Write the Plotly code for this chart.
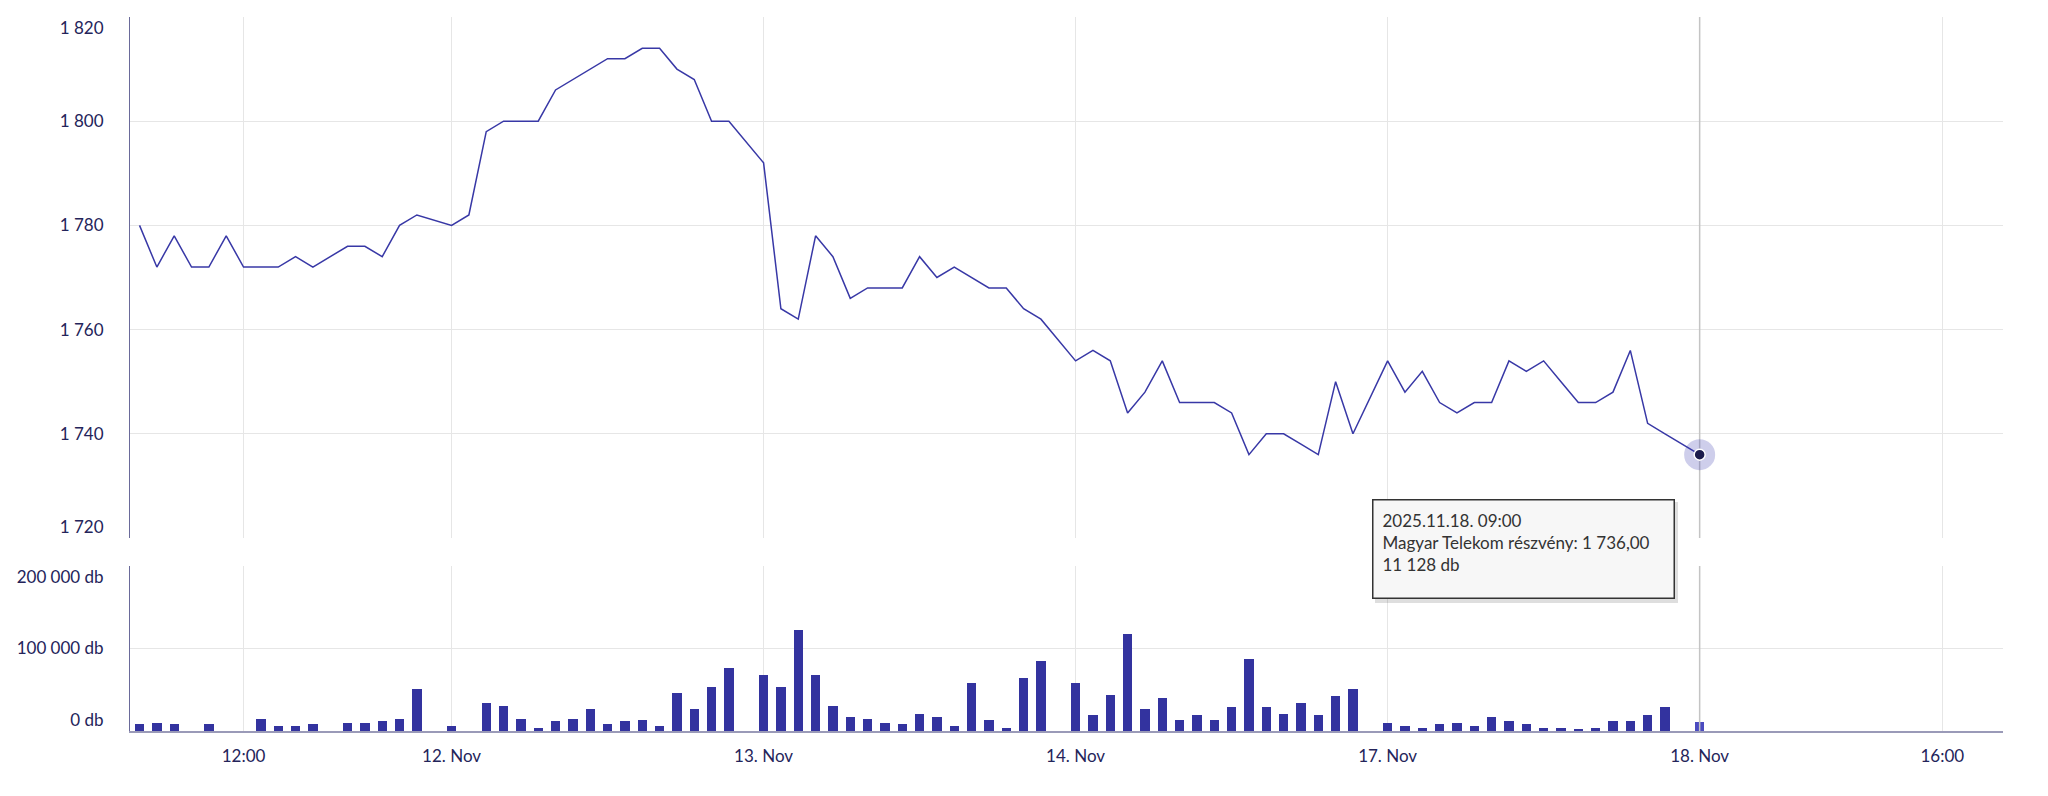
import plotly.graph_objects as go

# ---------------- data ----------------
days = ["2025.11.11.", "2025.11.12.", "2025.11.13.", "2025.11.14.", "2025.11.17.", "2025.11.18."]
slots = ["09:00", "09:30", "10:00", "10:30", "11:00", "11:30", "12:00", "12:30", "13:00",
         "13:30", "14:00", "14:30", "15:00", "15:30", "16:00", "16:30", "17:00", "17:30"]
times = [f"{d} {s}" for d in days[:-1] for s in slots] + [f"{days[-1]} 09:00"]

price = [
    1780, 1772, 1778, 1772, 1772, 1778, 1772, 1772, 1772, 1774, 1772, None, 1776, 1776, 1774, 1780, 1782, None,
    1780, 1782, 1798, 1800, 1800, 1800, 1806, 1808, 1810, 1812, 1812, 1814, 1814, 1810, 1808, 1800, 1800, None,
    1792, 1764, 1762, 1778, 1774, 1766, 1768, 1768, 1768, 1774, 1770, 1772, 1770, 1768, 1768, 1764, 1762, None,
    1754, 1756, 1754, 1744, 1748, 1754, 1746, 1746, 1746, 1744, 1736, 1740, 1740, 1738, 1736, 1750, 1740, None,
    1754, 1748, 1752, 1746, 1744, 1746, 1746, 1754, 1752, 1754, 1750, 1746, 1746, 1748, 1756, 1742, 1740, None,
    1736,
]
volume = [
    8000, 9700, 8000, 0, 8000, 0, 0, 15000, 6000, 6000, 8000, 0, 9700, 9700, 11700, 15000, 50800, 0,
    6000, 0, 34000, 30600, 15000, 4000, 11700, 15000, 26600, 8000, 11700, 13300, 6000, 45600, 26600, 53000, 75800, 0,
    67700, 53000, 122000, 67700, 30600, 17300, 15000, 9700, 8000, 21000, 17300, 6000, 58500, 13300, 4000, 64000, 84700, 0,
    58500, 19400, 43500, 118000, 26600, 40000, 13300, 19400, 13300, 28600, 86700, 28600, 21000, 34000, 19400, 42000, 50800, 0,
    9700, 6000, 4000, 8000, 9700, 6000, 17300, 11700, 8000, 4000, 4000, 2400, 4000, 11700, 11700, 19400, 28600, 0,
    11128,
]

x_tick_labels = ["12:00", "12. Nov", "13. Nov", "14. Nov", "17. Nov", "18. Nov", "16:00"]
x_tick_times = [("2025.11.11.", "12:00"), ("2025.11.12.", "09:00"), ("2025.11.13.", "09:00"),
                ("2025.11.14.", "09:00"), ("2025.11.17.", "09:00"), ("2025.11.18.", "09:00"),
                ("2025.11.18.", "16:00")]
price_ticks = [1720, 1740, 1760, 1780, 1800, 1820]
price_tick_labels = ["1 720<br> ", "1 740", "1 760", "1 780", "1 800", "<br>1 820"]
vol_ticks = [0, 100000, 200000]
vol_tick_labels = ["0 db<br> ", "100 000 db", "<br>200 000 db"]
series_name = "Magyar Telekom részvény"

# ---------------- ordinal positions ----------------
idx = list(range(len(times)))
n_slots = len(slots)
tick_pos = [days.index(d) * n_slots + slots.index(s) for d, s in x_tick_times]
price_range = [price_ticks[0], price_ticks[-1]]
vol_range = [vol_ticks[0], vol_ticks[-1]]

def hu(v, dec=0):
    s = f"{v:,.{dec}f}"
    return s.replace(",", " ").replace(".", ",")

FONT = "Lato"
TXT = "#24245a"
GRID = "#e6e6e6"
LINE = "#3838a6"
BAR = "#33339f"
CROSS = "#c4c4c4"

bar_colors = [BAR] * (len(volume) - 1) + ["#4b4bc0"]
last = len(times) - 1

fig = go.Figure()
# crosshair at the hovered point (drawn first, under the series)
fig.add_trace(go.Scatter(x=[idx[last], idx[last]], y=price_range, mode="lines",
                         line=dict(color=CROSS, width=1.5), xaxis="x", yaxis="y",
                         showlegend=False, hoverinfo="skip"))
fig.add_trace(go.Scatter(x=[idx[last], idx[last]], y=vol_range, mode="lines",
                         line=dict(color=CROSS, width=1.5), xaxis="x2", yaxis="y2",
                         showlegend=False, hoverinfo="skip"))
fig.add_trace(go.Scatter(x=idx, y=price, mode="lines", connectgaps=True,
                         line=dict(color=LINE, width=1.5), xaxis="x", yaxis="y",
                         name=series_name, showlegend=False))
fig.add_trace(go.Bar(x=idx, y=volume, width=0.54, marker=dict(color=bar_colors, line=dict(width=0)),
                     xaxis="x2", yaxis="y2", showlegend=False))
# hovered point (last point) with halo
fig.add_trace(go.Scatter(x=[idx[last]], y=[price[last]], mode="markers",
                         marker=dict(size=31, color="rgba(60,60,175,0.25)"),
                         xaxis="x", yaxis="y", showlegend=False))
fig.add_trace(go.Scatter(x=[idx[last]], y=[price[last]], mode="markers",
                         marker=dict(size=11, color="#1c1c4c", line=dict(color="white", width=1.5)),
                         xaxis="x", yaxis="y", showlegend=False))

xr = [-0.55, 107.5]
common_x = dict(range=xr, tickvals=tick_pos, ticktext=x_tick_labels, showgrid=True,
                gridcolor=GRID, gridwidth=1, zeroline=False, ticks="")
fig.update_layout(
    width=2048, height=796,
    margin=dict(l=130, r=45, t=17, b=65),
    paper_bgcolor="white", plot_bgcolor="white",
    font=dict(family=FONT, size=17, color=TXT),
    bargap=0,
    hovermode=False,
    xaxis=dict(**common_x, domain=[0, 1], anchor="y", showticklabels=False, showline=False),
    xaxis2=dict(**common_x, domain=[0, 1], anchor="y2", showticklabels=True, showline=True,
                linecolor="#9a9ab8", linewidth=2, ticklabelstandoff=9,
                tickfont=dict(family=FONT, size=17, color=TXT)),
    yaxis=dict(domain=[0.2703, 1], range=price_range, tickvals=price_ticks, ticktext=price_tick_labels,
               showgrid=True, gridcolor=GRID, zeroline=False, showline=True, linecolor="#6a6a9a",
               linewidth=1, ticks="", ticklabelstandoff=22, anchor="x",
               tickfont=dict(family=FONT, size=17, color=TXT)),
    yaxis2=dict(domain=[0, 0.2311], range=vol_range, tickvals=vol_ticks, ticktext=vol_tick_labels,
                showgrid=True, gridcolor=GRID, zeroline=False, showline=True, linecolor="#6a6a9a",
                linewidth=1, ticks="", ticklabelstandoff=22, anchor="x2",
                tickfont=dict(family=FONT, size=17, color=TXT)),
)

# tooltip
W, H = 1873.0, 714.0
def px(xp):
    return (xp - 130) / W
def py(yp):
    return (731 - yp) / H

fig.add_shape(type="rect", xref="paper", yref="paper",
              x0=px(1375), x1=px(1678), y0=py(603), y1=py(502),
              fillcolor="rgba(0,0,0,0.13)", line=dict(width=0), layer="above")
tip = (f"{times[last]}<br>{series_name}: {hu(price[last], 2)}<br>{hu(volume[last])} db")
fig.add_annotation(xref="paper", yref="paper", x=px(1372), y=py(499), xanchor="left", yanchor="top",
                   text=tip, showarrow=False, align="left", valign="top",
                   width=282, height=79, borderpad=9, borderwidth=1.5,
                   bordercolor="#333333", bgcolor="#f7f7f7",
                   font=dict(family=FONT, size=17, color="#333333"))

fig.write_html("out.html", config={"displayModeBar": False},
               post_script="document.body.style.margin='0';")
